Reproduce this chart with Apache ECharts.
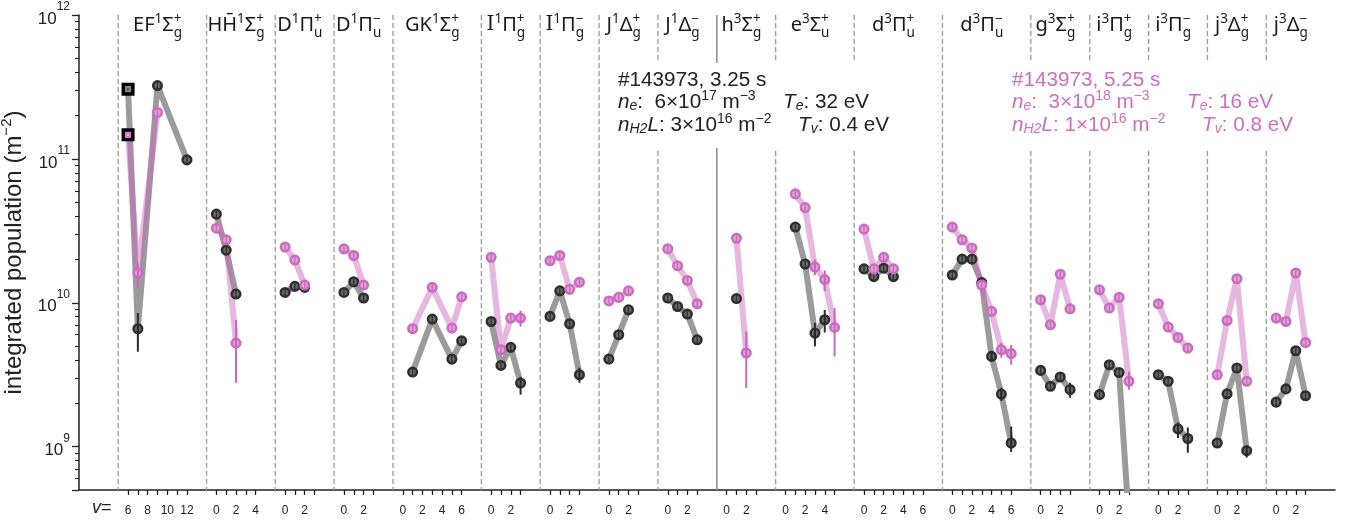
<!DOCTYPE html>
<html>
<head>
<meta charset="utf-8">
<title>Integrated populations of H2 states</title>
<script src="https://cdn.jsdelivr.net/npm/echarts@6.0.0/dist/echarts.min.js"></script>
<style>
html,body{margin:0;padding:0;background:#ffffff;}
#chart{width:1356px;height:523px;}
</style>
</head>
<body>
<div id="chart"></div>
<script>
// ---------------- data ----------------
const stateKeys = ['EF','HH','Dp','Dm','GK','Ip','Im','Jp','Jm','h','e','dp','dm','g','ip','im','jp','jm'];
const stateLabels = ['EF^{1}Σ^{+}_{g}','HH\u0304^{1}Σ^{+}_{g}','D^{1}Π^{+}_{u}','D^{1}Π^{−}_{u}','GK^{1}Σ^{+}_{g}',
  '|I|^{1}Π^{+}_{g}','|I|^{1}Π^{−}_{g}','J^{1}Δ^{+}_{g}','J^{1}Δ^{−}_{g}','h^{3}Σ^{+}_{g}','e^{3}Σ^{+}_{u}',
  'd^{3}Π^{+}_{u}','d^{3}Π^{−}_{u}','g^{3}Σ^{+}_{g}','i^{3}Π^{+}_{g}','i^{3}Π^{−}_{g}','j^{3}Δ^{+}_{g}','j^{3}Δ^{−}_{g}'];
const vFirst = [6,0,0,0,0,0,0,0,0,0,0,0,0,0,0,0,0,0];
const vLast  = [12,4,3,3,6,3,3,3,3,3,5,6,6,3,3,3,3,3];
const solidSeparatorState = 'h';

// shot A : #143973, 3.25 s (black)
const shotA_state = ['EF','EF','EF','EF','HH','HH','HH','Dp','Dp','Dp','Dm','Dm','Dm','GK','GK','GK','GK',
  'Ip','Ip','Ip','Ip','Im','Im','Im','Im','Jp','Jp','Jp','Jm','Jm','Jm','Jm','h','e','e','e','e',
  'dp','dp','dp','dp','dm','dm','dm','dm','dm','dm','dm','g','g','g','g','ip','ip','ip','ip',
  'im','im','im','im','jp','jp','jp','jp','jm','jm','jm','jm'];
const shotA_v = [6,7,9,12, 0,1,2, 0,1,2, 0,1,2, 1,3,5,6, 0,1,2,3, 0,1,2,3, 0,1,2, 0,1,2,3, 1, 1,2,3,4,
  0,1,2,3, 0,1,2,3,4,5,6, 0,1,2,3, 0,1,2,3, 0,1,2,3, 0,1,2,3, 0,1,2,3];
const shotA_pop = [3.05e11,6.6e9,3.23e11,9.85e10, 4.13e10,2.32e10,1.15e10, 1.18e10,1.30e10,1.28e10,
  1.18e10,1.40e10,1.08e10, 3.3e9,7.7e9,4.06e9,5.44e9, 7.41e9,3.67e9,4.90e9,2.77e9, 8.04e9,1.21e10,7.15e9,3.16e9,
  4.06e9,6.0e9,8.93e9, 1.08e10,9.42e9,8.35e9,5.53e9, 1.07e10, 3.36e10,1.86e10,6.15e9,7.62e9,
  1.72e10,1.52e10,1.74e10,1.52e10, 1.56e10,2.01e10,2.01e10,1.38e10,4.24e9,2.32e9,1.06e9,
  3.39e9,2.63e9,3.05e9,2.49e9, 2.30e9,3.71e9,3.28e9,3.0e8, 3.16e9,2.85e9,1.33e9,1.14e9,
  1.06e9,2.33e9,3.52e9,9.38e8, 2.04e9,2.52e9,4.64e9,2.26e9];
const shotA_errState = ['EF','Ip','Im','e','e','dm','dm','dm','g','im','im','jp'];
const shotA_errV     = [7,3,3,3,4,4,5,6,3,2,3,3];
const shotA_errLo    = [4.57e9,2.30e9,2.78e9,4.98e9,6.22e9,3.91e9,2.08e9,9.19e8,2.19e9,1.15e9,9.08e8,8.4e8];
const shotA_errHi    = [8.5e9,3.06e9,3.54e9,7.26e9,8.93e9,4.59e9,2.57e9,1.38e9,2.78e9,1.47e9,1.36e9,1.02e9];

// shot B : #143973, 5.25 s (magenta)
const shotB_state = ['EF','EF','EF','HH','HH','HH','Dp','Dp','Dp','Dm','Dm','Dm','GK','GK','GK','GK',
  'Ip','Ip','Ip','Ip','Im','Im','Im','Im','Jp','Jp','Jp','Jm','Jm','Jm','Jm','h','h','e','e','e','e','e',
  'dp','dp','dp','dp','dm','dm','dm','dm','dm','dm','dm','g','g','g','g','ip','ip','ip','ip',
  'im','im','im','im','jp','jp','jp','jp','jm','jm','jm','jm'];
const shotB_v = [6,7,9, 0,1,2, 0,1,2, 0,1,2, 1,3,5,6, 0,1,2,3, 0,1,2,3, 0,1,2, 0,1,2,3, 1,2, 1,2,3,4,5,
  0,1,2,3, 0,1,2,3,4,5,6, 0,1,2,3, 0,1,2,3, 0,1,2,3, 0,1,2,3, 0,1,2,3];
const shotB_pop = [1.47e11,1.61e10,2.1e11, 3.3e10,2.74e10,5.25e9, 2.44e10,1.98e10,1.33e10, 2.37e10,2.13e10,1.33e10,
  6.6e9,1.28e10,6.67e9,1.10e10, 2.07e10,4.72e9,7.83e9,7.83e9, 1.96e10,2.13e10,1.24e10,1.39e10,
  1.03e10,1.09e10,1.21e10, 2.37e10,1.81e10,1.43e10,9.85e9, 2.81e10,4.48e9, 5.71e10,4.59e10,1.77e10,1.45e10,6.74e9,
  3.25e10,1.72e10,2.07e10,1.72e10, 3.36e10,2.74e10,2.40e10,1.33e10,8.71e9,4.72e9,4.43e9,
  1.05e10,7.03e9,1.58e10,9.08e9, 1.23e10,9.19e9,1.09e10,2.85e9, 9.85e9,6.78e9,5.74e9,4.84e9,
  3.16e9,7.53e9,1.47e10,2.85e9, 7.83e9,7.41e9,1.61e10,5.3e9];
const shotB_errState = ['EF','HH','Ip','h','e','e','e','dm','dm','ip'];
const shotB_errV     = [7,2,3,2,3,4,5,5,6,3];
const shotB_errLo    = [1.27e10,2.78e9,6.84e9,2.56e9,1.56e10,1.20e10,4.24e9,4.15e9,3.71e9,2.49e9];
const shotB_errHi    = [1.9e10,7.6e9,8.8e9,6.32e9,1.99e10,1.68e10,9.19e9,5.27e9,5.1e9,3.32e9];

const squareMarkers = [['EF',6]];   // points drawn with square markers

const annotationA = ['#143973, 3.25 s', '*n*_{*e*}:  6×10^{17} m^{−3}', '*T*_{*e*}: 32 eV', '*n*_{*H2*}*L*: 3×10^{16} m^{−2}', '*T*_{*v*}: 0.4 eV'];
const annotationB = ['#143973, 5.25 s', '*n*_{*e*}:  3×10^{18} m^{−3}', '*T*_{*e*}: 16 eV', '*n*_{*H2*}*L*: 1×10^{16} m^{−2}', '*T*_{*v*}: 0.8 eV'];

// ---------------- layout helpers ----------------
const yMin = 5e8, yMax = 1e12;
const sepX = [];
(function(){ let s = 4; stateKeys.forEach((k,i)=>{ sepX.push(s); s += (vLast[i]-vFirst[i]+1) + 2; }); })();
const lastI = stateKeys.length-1;
const xMax = sepX[lastI] + (vLast[lastI]-vFirst[lastI]+1) + 3;
function xOf(state, v){ const i = stateKeys.indexOf(state); return sepX[i] + 1 + v - vFirst[i]; }

const tickXs = [], labelXs = [], labelText = {};
stateKeys.forEach((k,i)=>{
  for (let v = vFirst[i]; v <= vLast[i]; v++) {
    const x = xOf(k, v); tickXs.push(x);
    if (v % 2 === 0) { labelXs.push(x); labelText[x] = String(v); }
  }
});
const minorYTicks = [];
for (let n = 8; n < 12; n++) for (let k = 2; k <= 9; k++) {
  const val = k*Math.pow(10,n);
  if (val > yMin && val < yMax) minorYTicks.push(Math.log10(val));
}

function buildPoints(states, vs, pops, eS, eV, eLo, eHi){
  return states.map((s,i)=>{
    const p = {state:s, v:vs[i], x:xOf(s,vs[i]), y:pops[i], lo:null, hi:null, square:false};
    for (let j=0;j<eS.length;j++) if (eS[j]===s && eV[j]===vs[i]) { p.lo = eLo[j]; p.hi = eHi[j]; }
    squareMarkers.forEach(q=>{ if (q[0]===s && q[1]===vs[i]) p.square = true; });
    return p;
  });
}
const ptsA = buildPoints(shotA_state, shotA_v, shotA_pop, shotA_errState, shotA_errV, shotA_errLo, shotA_errHi);
const ptsB = buildPoints(shotB_state, shotB_v, shotB_pop, shotB_errState, shotB_errV, shotB_errLo, shotB_errHi);

const styleA = {line:'#9b9b9b', edge:'#2e2e2e', face:'#6a6a6a', inner:'#333333', bar:'#2a2a2a', sq:'#858585', sqDot:'#555'};
const styleB = {line:'rgba(204,102,192,0.48)', edge:'#cc6cc0', face:'#dea2d7', inner:'#cc6cc0', bar:'#cc66be', sq:'#d07ac6', sqDot:'#e6aee0'};

function lineSeriesFor(pts, st, z){
  return stateKeys.map(k=>{
    const d = pts.filter(p=>p.state===k).map(p=>[p.x,p.y]);
    return {type:'line', xAxisIndex:0, yAxisIndex:0, data:d, symbol:'none', z:z, silent:true,
      lineStyle:{color:st.line, width:6, join:'round', cap:'butt'}, clip:true, animation:false};
  }).filter(s=>s.data.length>1);
}
function markerSeries(pts, st, z){
  return {
    type:'custom', xAxisIndex:0, yAxisIndex:0, z:z, clip:true, silent:true,
    data: pts.map(p=>[p.x,p.y]), encode:{x:0,y:1},
    renderItem: function(params, api){
      const p = pts[params.dataIndex];
      if (p.y < yMin || p.y > yMax) return null;
      const c = api.coord([p.x,p.y]);
      const ch = [];
      if (p.square) {
        ch.push({type:'rect', shape:{x:c[0]-4.8,y:c[1]-4.8,width:9.6,height:9.6}, style:{fill:st.sq, stroke:'#000', lineWidth:3.4}});
        ch.push({type:'rect', shape:{x:c[0]-1.2,y:c[1]-1.2,width:2.4,height:2.4}, style:{fill:st.sqDot}});
      } else {
        ch.push({type:'circle', shape:{cx:c[0],cy:c[1],r:4.3}, style:{fill:st.face, stroke:st.edge, lineWidth:2.5}});
        ch.push({type:'line', shape:{x1:c[0],y1:c[1]-3.6,x2:c[0],y2:c[1]+3.6}, style:{stroke:st.inner, lineWidth:1.4}});
      }
      if (p.lo !== null) {
        const a = api.coord([p.x,p.hi]), b = api.coord([p.x,p.lo]);
        ch.push({type:'line', shape:{x1:c[0],y1:a[1],x2:c[0],y2:b[1]}, style:{stroke:st.bar, lineWidth:2}});
      }
      return {type:'group', children:ch};
    },
    animation:false
  };
}
const separatorSeries = {
  type:'custom', xAxisIndex:0, yAxisIndex:0, z:1, silent:true,
  data: sepX.map((x,i)=>[x, yMin, stateKeys[i]===solidSeparatorState ? 1 : 0]), encode:{x:0,y:1},
  renderItem: function(params, api){
    const x = api.value(0);
    const t = api.coord([x,yMax]), b = api.coord([x,yMin]);
    const solid = api.value(2) === 1;
    return {type:'line', shape:{x1:t[0],y1:t[1],x2:b[0],y2:b[1]},
      style:{stroke: solid ? '#8f8f8f' : '#9a9a9a', lineWidth: solid ? 1.6 : 1.3, lineDash: solid ? null : [5,3]}};
  },
  animation:false
};

const FONT = '"Liberation Sans", Arial, sans-serif';
const LABELFONT = '"Noto Sans", "DejaVu Sans", sans-serif';

const option = {
  animation:false,
  backgroundColor:'#ffffff',
  grid:{left:79, right:21, top:15, bottom:33, outerBoundsMode:'none', containLabel:false},
  xAxis:{
    type:'value', min:0, max:xMax,
    axisLine:{show:true, lineStyle:{color:'#222', width:1.5}},
    axisTick:{show:true, customValues:tickXs, length:5, lineStyle:{color:'#222', width:1.3}},
    axisLabel:{customValues:labelXs, formatter:(v)=>labelText[Math.round(v)] || '', fontSize:12, color:'#222', fontFamily:FONT, margin:15},
    splitLine:{show:false}
  },
  yAxis:[{
    type:'log', logBase:10, min:yMin, max:yMax,
    axisLine:{show:true, lineStyle:{color:'#222', width:1.5}},
    axisTick:{show:true, length:7, lineStyle:{color:'#222', width:1.3}},
    axisLabel:{
      margin:9, color:'#222', fontFamily:FONT,
      formatter:function(v){ const e = Math.log10(v); const n = Math.round(e); if (Math.abs(e-n)>1e-6) return ''; return '{b|10}{s|'+n+'}'; },
      rich:{b:{fontSize:17, fontFamily:FONT, color:'#222', padding:[8,0,0,0]}, s:{fontSize:12, fontFamily:FONT, color:'#222', padding:[0,0,16,0]}}
    },
    splitLine:{show:false},
    name:'{a|integrated population (m}{s|−2}{a|)}', nameLocation:'middle', nameRotate:90, nameGap:37,
    nameTextStyle:{rich:{a:{fontSize:24, fontFamily:FONT, color:'#222'}, s:{fontSize:15, fontFamily:FONT, color:'#222', padding:[0,0,16,0]}}}
  },{
    type:'value', min:Math.log10(yMin), max:12, position:'left',
    axisLine:{show:false}, axisLabel:{show:false}, splitLine:{show:false},
    axisTick:{show:true, customValues:minorYTicks, length:4, lineStyle:{color:'#222', width:1.1}}
  }],
  series:[separatorSeries]
    .concat(lineSeriesFor(ptsA, styleA, 2))
    .concat(lineSeriesFor(ptsB, styleB, 3))
    .concat([markerSeries(ptsA, styleA, 4), markerSeries(ptsB, styleB, 5)])
};

const chart = echarts.init(document.getElementById('chart'), null, {renderer:'canvas'});
chart.setOption(option);

// ---------------- rich text layout (labels / annotations) ----------------
const mctx = document.createElement('canvas').getContext('2d');
function fontStr(size, italic, family){ return (italic?'italic ':'') + size + 'px ' + family; }
function tw(t, size, italic, family){ mctx.font = fontStr(size, italic, family); return mctx.measureText(t).width; }
function parseMarkup(s){
  const out = []; let i = 0, it = false, sf = false, cur = '';
  const flush = ()=>{ if (cur) { out.push({t:cur, k:'n', i:it, sf:sf}); cur=''; } };
  while (i < s.length) {
    const c = s[i];
    if (c === '*') { flush(); it = !it; i++; continue; }
    if (c === '|') { flush(); sf = !sf; i++; continue; }
    if ((c === '^' || c === '_') && s[i+1] === '{') {
      flush(); const end = s.indexOf('}', i+2); let inner = s.slice(i+2, end); let ii = it;
      if (inner.length > 2 && inner[0] === '*' && inner[inner.length-1] === '*') { inner = inner.slice(1,-1); ii = true; }
      out.push({t:inner, k: c === '^' ? 'p' : 'b', i:ii, sf:sf}); i = end+1; continue;
    }
    cur += c; i++;
  }
  flush(); return out;
}
function richText(str, o){
  const parts = parseMarkup(str); let x = 0; const items = [];
  const place = (p, xx)=>{
    const fs = p.k === 'n' ? o.size : o.small;
    const fam = p.sf ? '"DejaVu Serif", serif' : o.family;
    const dy = p.k === 'p' ? o.supDy : (p.k === 'b' ? o.subDy : 0);
    items.push({t:p.t, x:xx, dy:dy, f:fontStr(fs, p.i, fam)});
    return tw(p.t, fs, p.i, fam);
  };
  for (let k = 0; k < parts.length; k++) {
    const p = parts[k], nx = parts[k+1];
    if (nx && ((p.k === 'p' && nx.k === 'b') || (p.k === 'b' && nx.k === 'p'))) {
      const w1 = place(p, x), w2 = place(nx, x); x += Math.max(w1, w2); k++;
    } else x += place(p, x);
  }
  const x0 = o.align === 'center' ? o.x - x/2 : o.x;
  return items.map(it=>({type:'text', x:x0+it.x, y:o.y+it.dy, z:100, silent:true,
    style:{text:it.t, font:it.f, fill:o.color, align:'left', verticalAlign:'middle'}}));
}

const graphics = [];
// state labels centred over each v range
stateKeys.forEach((k,i)=>{
  const cx = chart.convertToPixel({xAxisIndex:0}, (xOf(k, vFirst[i]) + xOf(k, vLast[i]))/2);
  graphics.push(...richText(stateLabels[i], {x:cx, y:25, size:20, small:13.5, supDy:-6, subDy:8, family:LABELFONT, color:'#1a1a1a', align:'center'}));
});
// white boxes behind the annotations
graphics.push({type:'rect', z:90, silent:true, shape:{x:612, y:63, width:287, height:85}, style:{fill:'#ffffff'}});
graphics.push({type:'rect', z:90, silent:true, shape:{x:1006, y:63, width:286, height:85}, style:{fill:'#ffffff'}});
function annotation(lines, x0, xTe, xTv, color){
  const o = {size:20.7, small:14, supDy:-6, subDy:4, family:FONT, color:color, align:'left'};
  graphics.push(...richText(lines[0], Object.assign({}, o, {x:x0, y:80})));
  graphics.push(...richText(lines[1], Object.assign({}, o, {x:x0, y:102})));
  graphics.push(...richText(lines[2], Object.assign({}, o, {x:xTe, y:102})));
  graphics.push(...richText(lines[3], Object.assign({}, o, {x:x0, y:125})));
  graphics.push(...richText(lines[4], Object.assign({}, o, {x:xTv, y:125})));
}
annotation(annotationA, 618, 783, 798, '#222222');
annotation(annotationB, 1012, 1187, 1202, '#cd6fc2');
// "v =" in front of the x tick labels
graphics.push(...richText('*v*=', {x:92, y:508, size:18, small:12, supDy:0, subDy:0, family:FONT, color:'#222', align:'left'}));

chart.setOption({graphic:{elements:graphics}});
</script>
</body>
</html>
